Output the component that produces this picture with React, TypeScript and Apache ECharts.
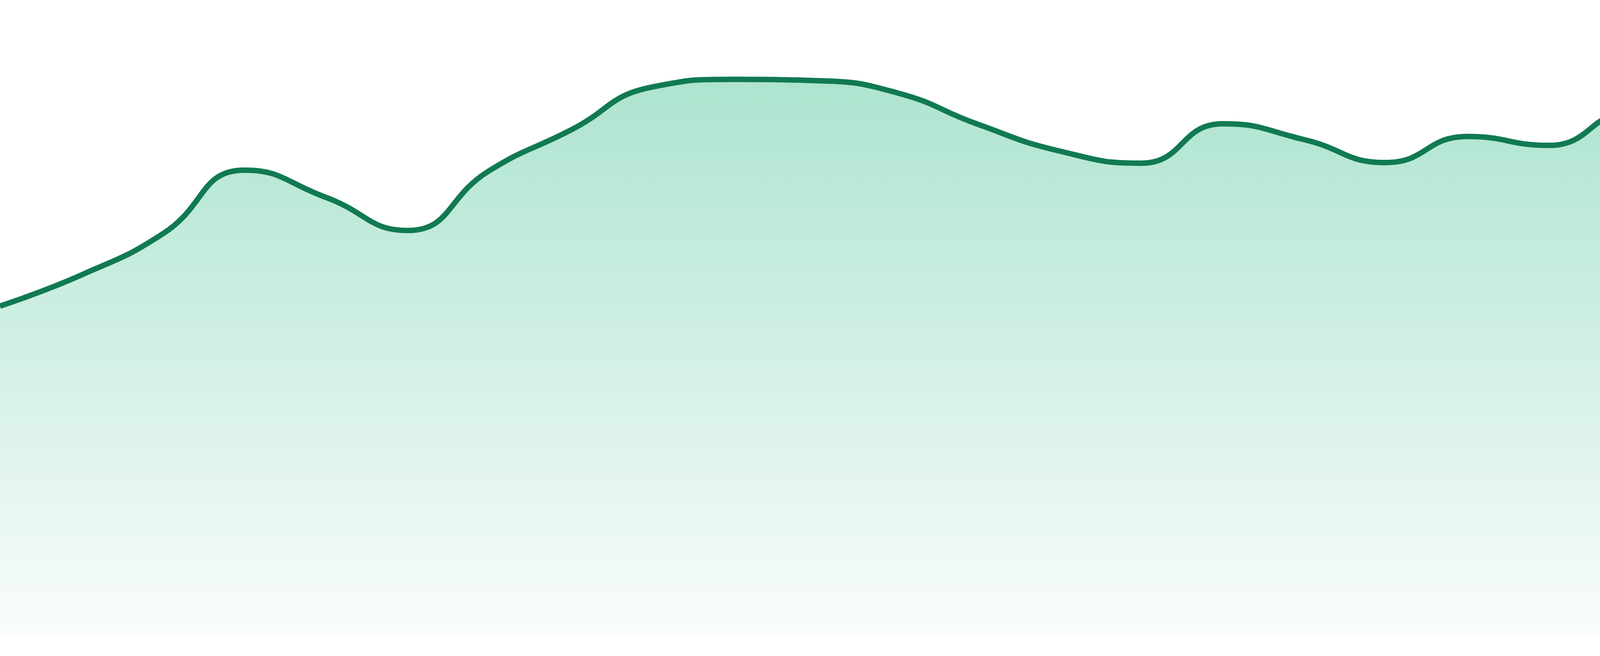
import { useEffect, useRef } from 'react';
import * as echarts from 'echarts';

// 24 evenly spaced samples, axes hidden in the original
const days = [
  'D1', 'D2', 'D3', 'D4', 'D5', 'D6', 'D7', 'D8', 'D9', 'D10', 'D11', 'D12',
  'D13', 'D14', 'D15', 'D16', 'D17', 'D18', 'D19', 'D20', 'D21', 'D22', 'D23', 'D24',
];

const values = [
  51.8, 56.7, 63.2, 73.2, 68.9, 63.7, 73.1, 79.5, 86.3, 87.5, 87.3, 85.4,
  80.4, 76.2, 74.3, 80.5, 78.0, 74.4, 78.5, 77.1, 82.3, 77.2, 79.0, 73.6,
];

const yMin = 0;
const yMax = 100;

const App = () => {
  const chartRef = useRef<HTMLDivElement>(null);

  useEffect(() => {
    if (!chartRef.current) return;

    const chart = echarts.init(chartRef.current, undefined, { renderer: 'svg' });

    chart.setOption({
      animation: false,
      grid: { left: 0, right: 0, top: 0, bottom: 54 },
      xAxis: {
        type: 'category',
        data: days,
        boundaryGap: false,
        show: false,
      },
      yAxis: {
        type: 'value',
        min: yMin,
        max: yMax,
        show: false,
      },
      series: [
        {
          type: 'line',
          data: values,
          smooth: true,
          symbol: 'none',
          lineStyle: { color: '#117a52', width: 14 },
          areaStyle: {
            color: new echarts.graphic.LinearGradient(0, 0, 0, 1, [
              { offset: 0, color: '#ade4cf' },
              { offset: 1, color: '#f9fcfb' },
            ]),
            opacity: 1,
          },
        },
      ],
    });

    return () => {
      chart.dispose();
    };
  }, []);

  return (
    <div
      ref={chartRef}
      style={{ position: 'absolute', left: 0, top: 0, width: '4800px', height: '1680px', background: '#ffffff' }}
    />
  );
};

export default App;
